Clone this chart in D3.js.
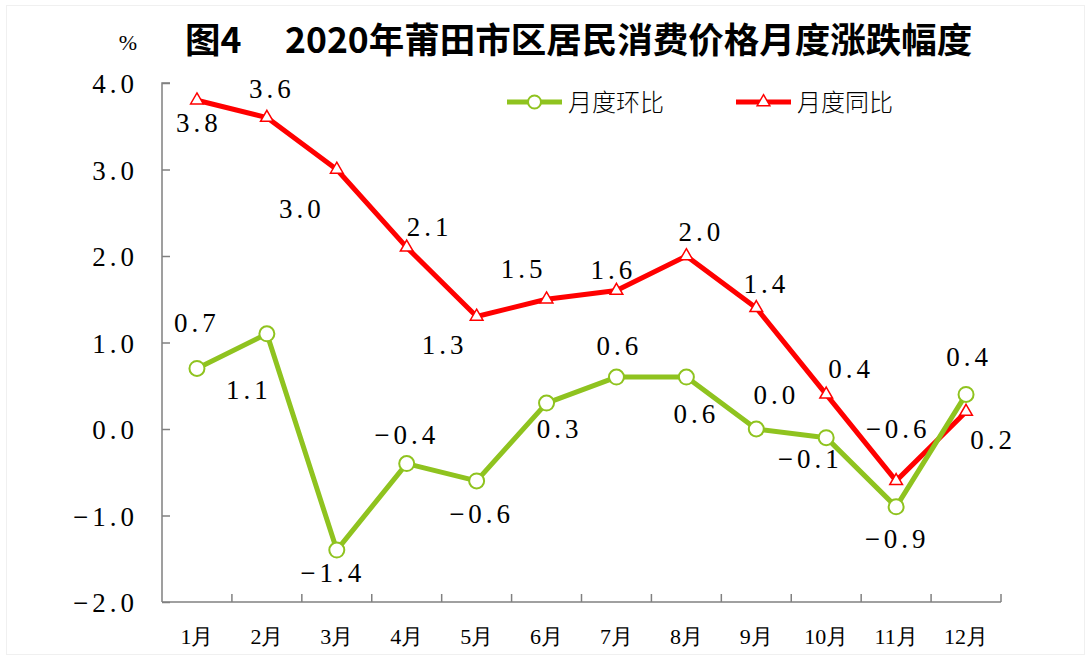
<!DOCTYPE html>
<html>
<head>
<meta charset="utf-8" />
<script src="https://cdn.jsdelivr.net/npm/d3@7"></script>
<style>
  html, body { margin: 0; padding: 0; background: #fff; }
  svg { display: block; }
  .num { font-family: "Liberation Serif", "Times New Roman", serif; }
  .cjk { font-family: "Noto Sans CJK SC", sans-serif; }
</style>
</head>
<body>
<div id="my_dataviz"></div>
<script>
// Chart data
const months = ["1月", "2月", "3月", "4月", "5月", "6月", "7月", "8月", "9月", "10月", "11月", "12月"];
const momValues = [0.7, 1.1, -1.4, -0.4, -0.6, 0.3, 0.6, 0.6, 0.0, -0.1, -0.9, 0.4];   // 月度环比
const yoyValues = [3.8, 3.6, 3.0, 2.1, 1.3, 1.5, 1.6, 2.0, 1.4, 0.4, -0.6, 0.2];        // 月度同比
const yTicks = [-2, -1, 0, 1, 2, 3, 4];

// label offsets (pixels from each point) so they sit where the original puts them
const momLabelOffsets = [[0, -46], [-18, 55], [-4, 22], [0, -30], [5, 32], [13, 25], [3, -32], [10, 36], [20, -35], [-16, 20], [1, 31], [3, -38]];
const yoyLabelOffsets = [[2, 22], [5, -30], [-35, 38], [23, -21], [-32, 27], [-23, -31], [-3, -22], [15, -25], [10, -25], [25, -26], [2, -53], [27, 27]];

const width = 1091;
const height = 657;
const green = "#8fc31f";
const red = "#ff0000";
const axisColor = "#808080";

const svg = d3.select("#my_dataviz")
    .append("svg")
    .attr("width", width)
    .attr("height", height);

// faint frame
svg.append("rect")
    .attr("x", 6.5).attr("y", 5.5)
    .attr("width", width - 13).attr("height", height - 8)
    .attr("fill", "none")
    .attr("stroke", "#f0f0f0");

const x = d3.scaleBand().domain(months).range([162, 1001]);
const y = d3.scaleLinear().domain([-2, 4]).range([602, 83]);
const fmt = d3.format(".1f");

// Title
svg.append("text")
    .attr("class", "cjk")
    .attr("x", 185).attr("y", 53)
    .attr("font-weight", 700)
    .attr("font-size", 35.5)
    .attr("fill", "#000")
    .text("图4\u3000 2020年莆田市区居民消费价格月度涨跌幅度");

svg.append("text")
    .attr("class", "num")
    .attr("x", 128).attr("y", 50)
    .attr("text-anchor", "middle")
    .attr("font-size", 22)
    .text("%");

// Y axis
const yAxis = svg.append("g")
    .attr("transform", `translate(${x.range()[0]},0)`)
    .call(d3.axisRight(y).tickValues(yTicks).tickSize(8).tickFormat(""));
yAxis.select(".domain").attr("d", `M8,${y(4)}H0V${y(-2)}`);
yAxis.selectAll("line, path").attr("stroke", axisColor).attr("stroke-width", 1.5);

svg.append("g").selectAll("text")
    .data(yTicks)
    .join("text")
    .attr("class", "num")
    .attr("x", 138)
    .attr("y", d => y(d) + 10)
    .attr("text-anchor", "end")
    .attr("font-size", 27)
    .attr("letter-spacing", 4)
    .text(d => fmt(d));

// X axis
const boundaries = months.map(m => x(m)).concat([x.range()[1]]);
const xAxis = svg.append("g")
    .attr("transform", `translate(0,${y(-2)})`);
xAxis.append("line")
    .attr("x1", x.range()[0]).attr("x2", x.range()[1])
    .attr("stroke", axisColor).attr("stroke-width", 1.5);
xAxis.selectAll("line.tick")
    .data(boundaries.slice(1))
    .join("line")
    .attr("class", "tick")
    .attr("x1", d => d).attr("x2", d => d)
    .attr("y1", 0).attr("y2", -8)
    .attr("stroke", axisColor).attr("stroke-width", 1.5);
xAxis.selectAll("text")
    .data(months)
    .join("text")
    .attr("class", "num")
    .attr("x", d => x(d) + x.bandwidth() / 2)
    .attr("y", 42)
    .attr("text-anchor", "middle")
    .attr("font-size", 22)
    .text(d => d);

const cx = (d, i) => x(months[i]) + x.bandwidth() / 2;
const line = d3.line().x(cx).y(d => y(d));

// Lines
svg.append("path")
    .datum(yoyValues)
    .attr("d", line)
    .attr("fill", "none")
    .attr("stroke", red)
    .attr("stroke-width", 5)
    .attr("stroke-linejoin", "round");

svg.append("path")
    .datum(momValues)
    .attr("d", line)
    .attr("fill", "none")
    .attr("stroke", green)
    .attr("stroke-width", 5)
    .attr("stroke-linejoin", "round");

// Markers
const tri = d3.symbol().type(d3.symbolTriangle).size(70);
svg.append("g").selectAll("path")
    .data(yoyValues)
    .join("path")
    .attr("d", tri)
    .attr("transform", (d, i) => `translate(${cx(d, i)},${y(d)})`)
    .attr("fill", "#fff")
    .attr("stroke", red)
    .attr("stroke-width", 1.5);

svg.append("g").selectAll("circle")
    .data(momValues)
    .join("circle")
    .attr("cx", cx)
    .attr("cy", d => y(d))
    .attr("r", 7.5)
    .attr("fill", "#fff")
    .attr("stroke", green)
    .attr("stroke-width", 2);

// Data labels
const addLabels = (values, offsets) => {
    svg.append("g").selectAll("text")
        .data(values)
        .join("text")
        .attr("class", "num")
        .attr("x", (d, i) => cx(d, i) + offsets[i][0])
        .attr("y", (d, i) => y(d) + offsets[i][1] + 10)
        .attr("text-anchor", "middle")
        .attr("font-size", 27)
        .attr("letter-spacing", 4)
        .text(d => fmt(d));
};
addLabels(yoyValues, yoyLabelOffsets);
addLabels(momValues, momLabelOffsets);

// Legend
const legend = [
    { name: "月度环比", color: green, x: 507, marker: "circle" },
    { name: "月度同比", color: red, x: 736, marker: "triangle" }
];
const lg = svg.append("g").attr("transform", "translate(0,102)");
legend.forEach(l => {
    lg.append("line")
        .attr("x1", l.x).attr("x2", l.x + 55)
        .attr("stroke", l.color).attr("stroke-width", 5);
    if (l.marker === "circle") {
        lg.append("circle")
            .attr("cx", l.x + 27.5).attr("r", 6.5)
            .attr("fill", "#fff").attr("stroke", l.color).attr("stroke-width", 2);
    } else {
        lg.append("path")
            .attr("d", tri)
            .attr("transform", `translate(${l.x + 27.5},0)`)
            .attr("fill", "#fff").attr("stroke", l.color).attr("stroke-width", 1.5);
    }
    lg.append("text")
        .attr("class", "cjk")
        .attr("x", l.x + 61).attr("y", 9)
        .attr("font-weight", 300)
        .attr("font-size", 24)
        .text(l.name);
});
</script>
</body>
</html>
